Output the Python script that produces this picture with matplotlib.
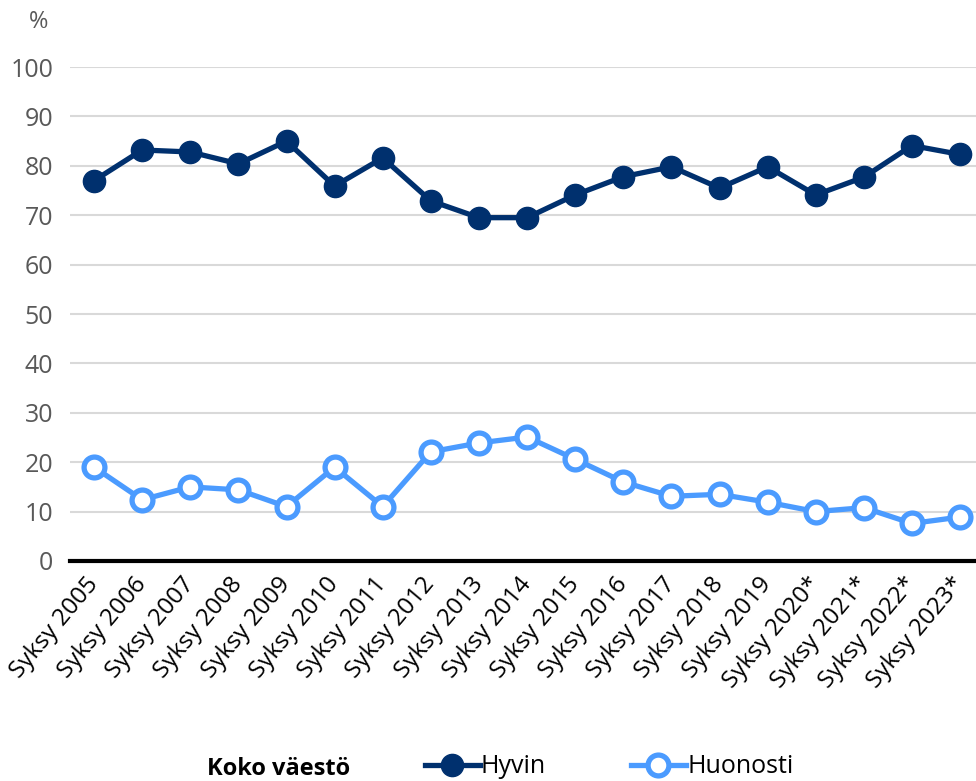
import matplotlib.pyplot as plt

plt.rcParams['font.family'] = ['Open Sans', 'DejaVu Sans']

kaudet = ['Syksy 2005', 'Syksy 2006', 'Syksy 2007', 'Syksy 2008', 'Syksy 2009',
          'Syksy 2010', 'Syksy 2011', 'Syksy 2012', 'Syksy 2013', 'Syksy 2014',
          'Syksy 2015', 'Syksy 2016', 'Syksy 2017', 'Syksy 2018', 'Syksy 2019',
          'Syksy 2020*', 'Syksy 2021*', 'Syksy 2022*', 'Syksy 2023*']
hyvin = [77, 83.2, 82.8, 80.4, 85, 75.9, 81.6, 72.9, 69.5, 69.5,
         74.1, 77.8, 79.8, 75.5, 79.8, 74.1, 77.7, 84.1, 82.3]
huonosti = [19, 12.4, 15, 14.4, 11, 19, 11, 22.1, 23.9, 25.1,
            20.6, 16, 13.1, 13.5, 11.9, 10, 10.8, 7.6, 8.9]

tumma = '#00306e'
vaalea = '#4b9bff'
harmaa = '#595959'

fig = plt.figure(figsize=(9.76, 7.81), dpi=100)
ax = fig.add_axes([0.0717, 0.2817, 0.9283, 0.6325])

x = list(range(len(kaudet)))
ax.plot(x, hyvin, color=tumma, lw=3.8, marker='o', ms=16,
        mfc=tumma, mec=tumma, label='Hyvin', clip_on=False, zorder=3)
ax.plot(x, huonosti, color=vaalea, lw=3.8, marker='o', ms=15,
        mfc='white', mec=vaalea, mew=3.8, label='Huonosti', clip_on=False, zorder=3)

ax.set_ylim(0, 100)
ax.set_xlim(-0.5, 18.33)
ax.set_yticks(range(0, 101, 10))
ax.yaxis.grid(True, color='#d9d9d9', lw=1.5)
ax.set_axisbelow(True)
for s in ['top', 'right', 'left']:
    ax.spines[s].set_visible(False)
ax.spines['bottom'].set_linewidth(3)
ax.spines['bottom'].set_color('black')
ax.spines['bottom'].set_zorder(2)

ax.set_xticks(x)
ax.set_xticklabels(kaudet, rotation=50, ha='right', va='center',
                   rotation_mode='anchor', fontsize=17.5, color='black')
ax.tick_params(axis='x', length=0, pad=14)
ax.tick_params(axis='y', length=0, pad=12, labelsize=18, labelcolor=harmaa)

fig.text(0.039, 0.972, '%', fontsize=17, color=harmaa, ha='center', va='center')

fig.text(0.212, 0.016, 'Koko väestö', fontsize=17, fontweight='bold',
         ha='left', va='center')
leg = fig.legend(loc='center', bbox_to_anchor=(0.624, 0.018), ncol=2,
                 frameon=False, fontsize=18, handlelength=2.2,
                 handletextpad=0.05, columnspacing=3.4)

fig.savefig('out.png', dpi=100)
